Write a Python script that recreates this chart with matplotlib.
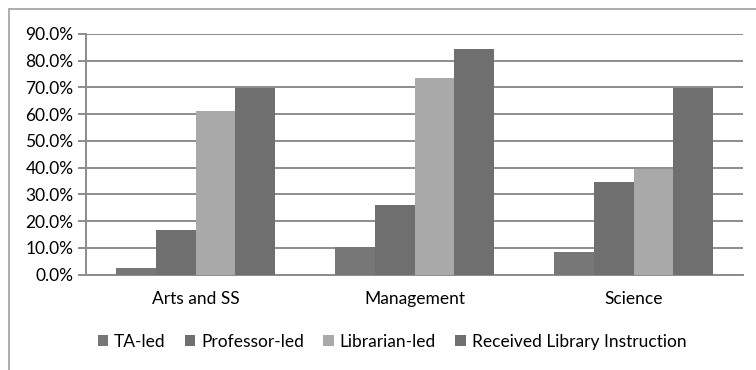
import matplotlib
matplotlib.use("Agg")
import matplotlib.pyplot as plt
import numpy as np
from matplotlib.patches import Rectangle

categories = ["Arts and SS", "Management", "Science"]
series_names = ["TA-led", "Professor-led", "Librarian-led", "Received Library Instruction"]
ta_led = [2.5, 10.2, 8.5]
professor_led = [16.7, 26.0, 34.8]
librarian_led = [61.0, 73.5, 39.3]
received = [69.7, 84.3, 69.7]
colors = ["#777777", "#6f6f6f", "#a9a9a9", "#6f6f6f"]
yticks = np.arange(0, 91, 10)

plt.rcParams["font.family"] = ["Lato", "DejaVu Sans"]
FS = 12.5

W, H = 756, 370
fig = plt.figure(figsize=(W / 100, H / 100), dpi=100)
fig.patch.set_facecolor("white")

# outer chart frame
fig.patches.append(Rectangle((9 / W, -0.1), 2.0, (H - 9) / H + 0.1,
                             transform=fig.transFigure, fill=False,
                             edgecolor="#a0a0a0", linewidth=1.2))

ax = fig.add_axes([86 / W, (H - 274.5) / H, (743 - 86) / W, (274.5 - 34) / H])

data = [ta_led, professor_led, librarian_led, received]
x = np.arange(len(categories))
bw = 0.182
for i, (vals, c, name) in enumerate(zip(data, colors, series_names)):
    ax.bar(x + (i - 1.5) * bw, vals, width=bw, color=c, label=name, zorder=3,
           edgecolor="none")

ax.set_xlim(-0.5, len(categories) - 0.5)
ax.set_ylim(0, 90)
ax.set_yticks(yticks)
ax.set_yticklabels([f"{v:.1f}%" for v in yticks], fontsize=FS)
ax.set_xticks(x)
ax.set_xticklabels(categories, fontsize=FS)
ax.yaxis.grid(True, color="#8c8c8c", linewidth=1.4, zorder=0)
ax.set_axisbelow(True)
for s in ["top", "right"]:
    ax.spines[s].set_visible(False)
ax.spines["left"].set_color("#8c8c8c")
ax.spines["left"].set_linewidth(1.4)
ax.spines["bottom"].set_color("#8c8c8c")
ax.spines["bottom"].set_linewidth(1.4)
ax.tick_params(axis="y", length=6, width=1.4, color="#8c8c8c", pad=3)
ax.tick_params(axis="x", length=0, pad=12)

leg = fig.legend(loc="center", bbox_to_anchor=(392 / W, (H - 342) / H), ncol=4,
                 frameon=False, fontsize=FS, handlelength=0.6, handleheight=0.6,
                 handletextpad=0.35, columnspacing=1.1)

fig.savefig("out.png", dpi=100)
